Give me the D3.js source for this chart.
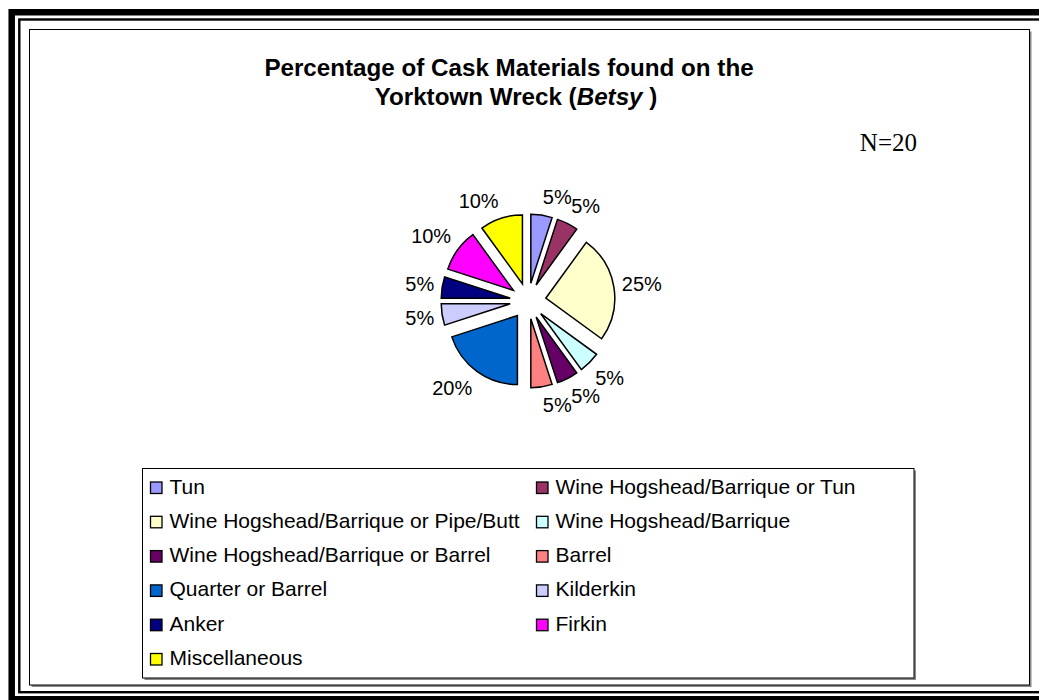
<!DOCTYPE html>
<html>
<head>
<meta charset="utf-8">
<script src="https://cdn.jsdelivr.net/npm/d3@7"></script>
<style>
  html, body { margin: 0; padding: 0; background: #fff; }
  svg { display: block; font-family: "Liberation Sans", Arial, sans-serif; }
</style>
</head>
<body>
<svg id="chart" width="1039" height="700"></svg>
<script>
// Cask types recovered from the Yorktown wreck (Betsy), N = 20
const categories = [
  "Tun",
  "Wine Hogshead/Barrique or Tun",
  "Wine Hogshead/Barrique or Pipe/Butt",
  "Wine Hogshead/Barrique",
  "Wine Hogshead/Barrique or Barrel",
  "Barrel",
  "Quarter or Barrel",
  "Kilderkin",
  "Anker",
  "Firkin",
  "Miscellaneous"
];
const counts = [1, 1, 5, 1, 1, 1, 4, 1, 1, 2, 2];
const colors = [
  "#9999FF", "#993366", "#FFFFCC", "#CCFFFF", "#660066", "#FF8080",
  "#0066CC", "#CCCCFF", "#000080", "#FF00FF", "#FFFF00"
];
const titleLines = ["Percentage of Cask Materials found on the", "Yorktown Wreck ("];
const sampleLabel = "N=20";

const svg = d3.select("#chart");

// double page frame
svg.append("rect").attr("x", 11.7).attr("y", 12.25).attr("width", 1046).attr("height", 687)
  .attr("fill", "none").attr("stroke", "#000").attr("stroke-width", 6.5);
svg.append("rect").attr("x", 19.3).attr("y", 19.5).attr("width", 1030).attr("height", 672.7)
  .attr("fill", "none").attr("stroke", "#000").attr("stroke-width", 2.4);

// boxed panel with a soft drop shadow
function shadowBox(x, y, w, h) {
  svg.append("rect").attr("x", x + 2).attr("y", y + 2).attr("width", w).attr("height", h)
    .attr("fill", "#8a8a8a");
  svg.append("rect").attr("x", x).attr("y", y).attr("width", w).attr("height", h)
    .attr("fill", "#fff").attr("stroke", "#000").attr("stroke-width", 1);
}
shadowBox(29.5, 29.5, 1000, 655.5);

// title
const title = svg.append("g").attr("font-weight", "bold").attr("font-size", 24.2).attr("fill", "#000");
title.append("text").attr("x", 509).attr("y", 76).attr("text-anchor", "middle").text(titleLines[0]);
const t2 = title.append("text").attr("x", 516).attr("y", 105).attr("text-anchor", "middle");
t2.append("tspan").text(titleLines[1]);
t2.append("tspan").attr("font-style", "italic").text("Betsy");
t2.append("tspan").text("\u00a0)");

svg.append("text").attr("x", 917).attr("y", 151).attr("text-anchor", "end")
  .style("font-family", "'Liberation Serif', 'Times New Roman', serif")
  .attr("font-size", 25).attr("fill", "#000").text(sampleLabel);

// exploded pie
const cx = 528, cy = 301, r = 69, explode = 18;
const total = d3.sum(counts);
const pct = d3.format(".0%");
const pie = d3.pie().sort(null).value(d => d).startAngle(0).endAngle(2 * Math.PI);
const arc = d3.arc().innerRadius(0).outerRadius(r);
const slices = pie(counts);

const pieG = svg.append("g").attr("transform", `translate(${cx},${cy})`);
pieG.selectAll("path").data(slices).join("path")
  .attr("transform", d => {
    const m = (d.startAngle + d.endAngle) / 2;
    return `translate(${explode * Math.sin(m)},${-explode * Math.cos(m)})`;
  })
  .attr("d", arc)
  .attr("fill", (d, i) => colors[i])
  .attr("stroke", "#000").attr("stroke-width", 1.5).attr("stroke-linejoin", "miter");

// percentage labels placed just outside each slice
const labelR = r + explode + 8;
const clamp = v => Math.max(-1, Math.min(1, v));
pieG.selectAll("text.lbl").data(slices).join("text")
  .attr("class", "lbl")
  .attr("font-size", 20).attr("fill", "#000")
  .attr("text-anchor", d => Math.sin((d.startAngle + d.endAngle) / 2) >= 0 ? "start" : "end")
  .attr("x", d => labelR * Math.sin((d.startAngle + d.endAngle) / 2))
  .attr("y", d => {
    const m = (d.startAngle + d.endAngle) / 2;
    return -labelR * Math.cos(m) - 10 * clamp(1.5 * Math.cos(m)) + 7;
  })
  .text(d => pct(d.data / total));

// legend
shadowBox(142.5, 468.5, 771.5, 209.5);
const legend = svg.append("g");
const colX = [150, 536], rowY0 = 493.5, rowStep = 34.3, sw = 11.5;
const items = legend.selectAll("g").data(categories).join("g")
  .attr("transform", (d, i) => `translate(${colX[i % 2]},${rowY0 + Math.floor(i / 2) * rowStep})`);
items.append("rect").attr("x", 0.5).attr("y", -sw).attr("width", sw).attr("height", sw)
  .attr("fill", (d, i) => colors[i]).attr("stroke", "#000").attr("stroke-width", 1.3);
items.append("text").attr("x", 19.5).attr("y", 0).attr("font-size", 21).attr("fill", "#000")
  .text(d => d);
</script>
</body>
</html>
